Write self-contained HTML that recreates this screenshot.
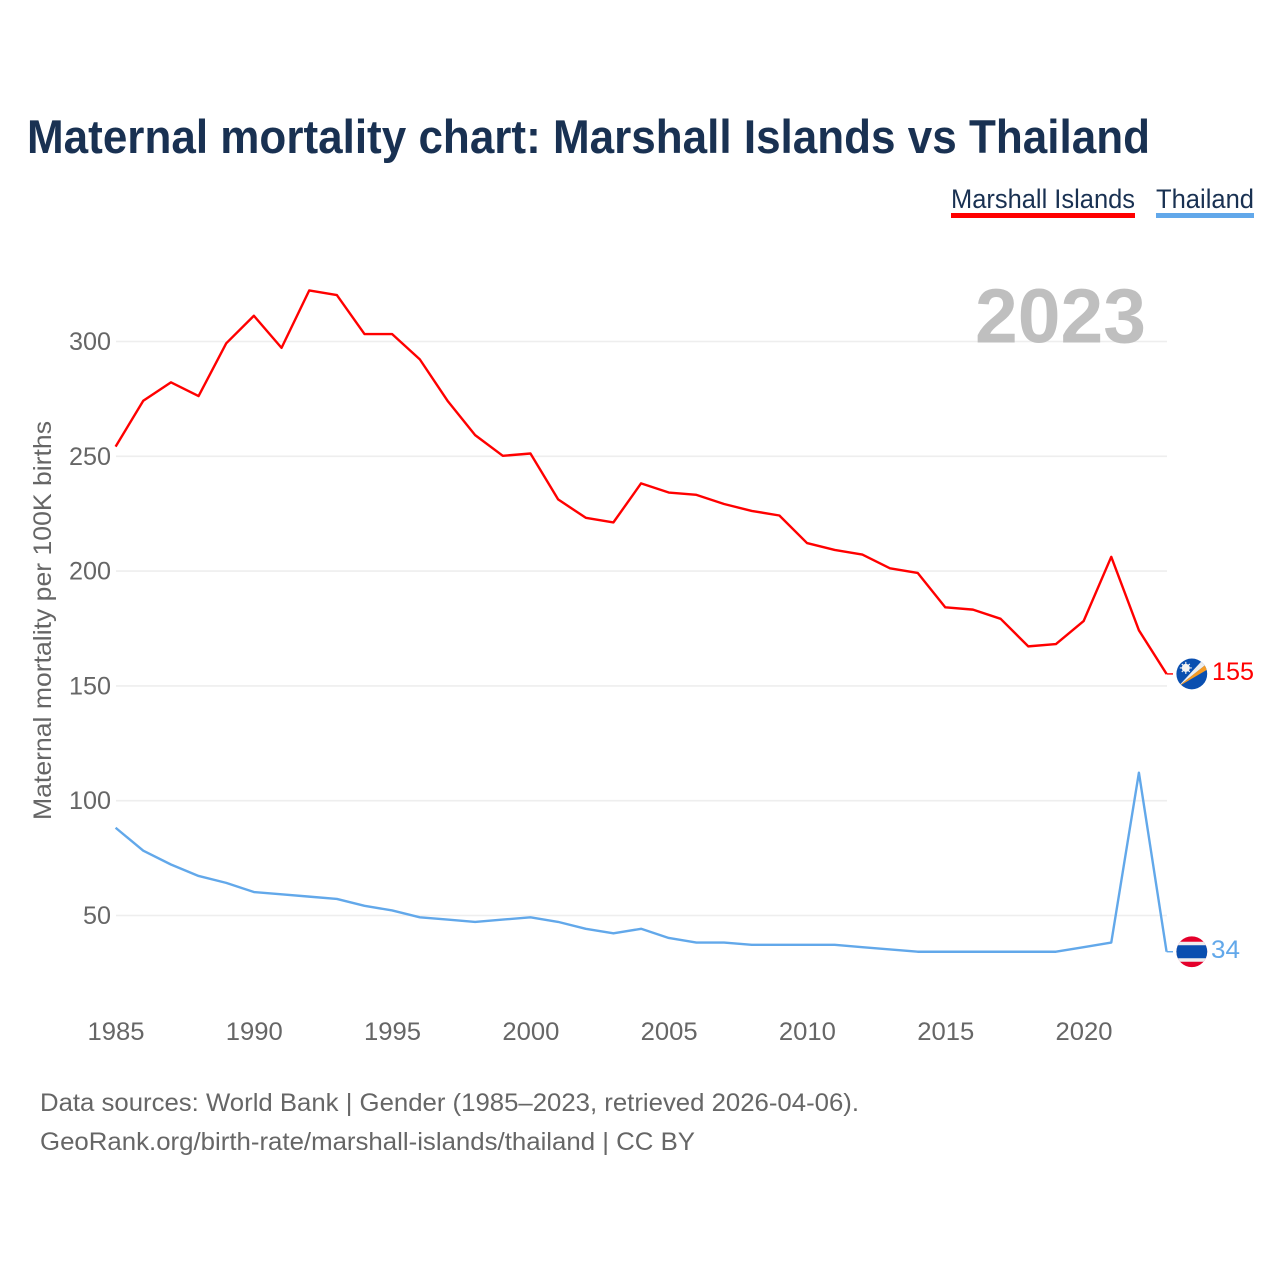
<!DOCTYPE html>
<html lang="en">
<head>
<meta charset="utf-8">
<title>Maternal mortality chart: Marshall Islands vs Thailand</title>
<style>
html,body{margin:0;padding:0;background:#fff;width:1280px;height:1280px;overflow:hidden}
svg{display:block}
text{font-family:"Liberation Sans",sans-serif}
</style>
</head>
<body>
<svg id="chart" width="1280" height="1280" viewBox="0 0 1280 1280" xmlns="http://www.w3.org/2000/svg">
  <rect width="1280" height="1280" fill="#fff"/>
  <text x="27" y="153" font-size="47" font-weight="700" fill="#193152" textLength="1123" lengthAdjust="spacingAndGlyphs">Maternal mortality chart: Marshall Islands vs Thailand</text>
  <g>
    <text x="951" y="208" font-size="27" fill="#193152" textLength="184" lengthAdjust="spacingAndGlyphs">Marshall Islands</text>
    <rect x="951" y="213" width="184" height="5" fill="#ff0000"/>
  </g>
  <g>
    <text x="1156" y="208" font-size="27" fill="#193152" textLength="98" lengthAdjust="spacingAndGlyphs">Thailand</text>
    <rect x="1156" y="213" width="98" height="5" fill="#62a8ea"/>
  </g>
  <g id="grid"></g>
  <text x="975" y="342.5" font-size="77" font-weight="700" fill="#bfbfbf" textLength="171" lengthAdjust="spacingAndGlyphs">2023</text>
  <g id="yticks"></g>
  <g id="xticks"></g>
  <text transform="translate(51 620.5) rotate(-90)" text-anchor="middle" font-size="25" fill="#666" textLength="399" lengthAdjust="spacingAndGlyphs">Maternal mortality per 100K births</text>
  <g id="series"></g>
  <g id="flag-mh">
    <clipPath id="clip-mh"><circle cx="0" cy="0" r="15.4"/></clipPath>
    <g clip-path="url(#clip-mh)">
      <rect x="-16" y="-16" width="32" height="32" fill="#0a4fb0"/>
      <polygon points="-14,13 11,-14 15,-10" fill="#eeeeee"/>
      <polygon points="-14,13 15,-10 15,-4" fill="#f59a23"/>
      <circle cx="-6" cy="-6" r="4" fill="#f2f2f2"/>
      <path d="M-6 -12V0M-12 -6H0M-10 -10L-2 -2M-10 -2L-2 -10" stroke="#f2f2f2" stroke-width="1.2"/>
    </g>
  </g>
  <g id="flag-th">
    <clipPath id="clip-th"><circle cx="0" cy="0" r="15.4"/></clipPath>
    <g clip-path="url(#clip-th)">
      <rect x="-16" y="-16" width="32" height="32" fill="#e4002b"/>
      <rect x="-16" y="-10" width="32" height="20" fill="#eeeeee"/>
      <rect x="-16" y="-6.5" width="32" height="13" fill="#0a4fb0"/>
    </g>
  </g>
  <text id="value-mh" x="1212" font-size="25" fill="#ff0000" textLength="42" lengthAdjust="spacingAndGlyphs"></text>
  <text id="value-th" x="1211" font-size="25" fill="#62a8ea" textLength="29" lengthAdjust="spacingAndGlyphs"></text>
  <text x="40" y="1111" font-size="25" fill="#666" textLength="819" lengthAdjust="spacingAndGlyphs">Data sources: World Bank | Gender (1985–2023, retrieved 2026-04-06).</text>
  <text x="40" y="1150" font-size="25" fill="#666" textLength="655" lengthAdjust="spacingAndGlyphs">GeoRank.org/birth-rate/marshall-islands/thailand | CC BY</text>
</svg>
<script>
const years = [1985,1986,1987,1988,1989,1990,1991,1992,1993,1994,1995,1996,1997,1998,1999,2000,2001,2002,2003,2004,2005,2006,2007,2008,2009,2010,2011,2012,2013,2014,2015,2016,2017,2018,2019,2020,2021,2022,2023];
const marshallIslands = [254,274,282,276,299,311,297,322,320,303,303,292,274,259,250,251,231,223,221,238,234,233,229,226,224,212,209,207,201,199,184,183,179,167,168,178,206,174,155];
const thailand = [88,78,72,67,64,60,59,58,57,54,52,49,48,47,48,49,47,44,42,44,40,38,38,37,37,37,37,36,35,34,34,34,34,34,34,36,38,112,34];
const yTickValues = [50,100,150,200,250,300];
const xTickValues = [1985,1990,1995,2000,2005,2010,2015,2020];

const NS = 'http://www.w3.org/2000/svg';
function xScale(year){ return 115.6 + (year - 1985) * (1083.6 - 115.6) / 35; }
function yScale(v){ return 915 - (v - 50) * (915 - 341) / 250; }
function make(tag, attrs, parent){
  const el = document.createElementNS(NS, tag);
  for (const k in attrs) el.setAttribute(k, attrs[k]);
  parent.appendChild(el);
  return el;
}

const grid = document.getElementById('grid');
const yticks = document.getElementById('yticks');
yTickValues.forEach(function(v){
  const line = make('line', {x1:116, x2:1167, y1:yScale(v) + 0.5, y2:yScale(v) + 0.5, stroke:'#eeeeee', 'stroke-width':1.6}, grid);
  
  
  const label = make('text', {x:111, y:yScale(v) + 9, 'text-anchor':'end', 'font-size':25, fill:'#666', textLength:42, lengthAdjust:'spacingAndGlyphs'}, yticks);
  
  
  label.textContent = v;
  if (v < 100) { label.setAttribute('textLength', 28); }
});

const xticks = document.getElementById('xticks');
xTickValues.forEach(function(v){
  const label = make('text', {x:xScale(v) + 0.4, y:1040, 'text-anchor':'middle', 'font-size':25, fill:'#666', textLength:57, lengthAdjust:'spacingAndGlyphs'}, xticks);
  
  
  label.textContent = v;
});

function drawSeries(values, color, seriesName, flagId, valueId, valueOffset){
  const last = values[values.length - 1];
  const lastY = yScale(last);
  const pts = years.map(function(y, i){ return xScale(y).toFixed(2) + ',' + yScale(values[i]).toFixed(2); });
  const line = make('polyline', {points:pts.join(' '), fill:'none', stroke:color, 'stroke-width':2.4, 'stroke-linejoin':'round'}, document.getElementById('series'));
  
  
  const stub = make('line', {x1:xScale(2023), x2:1173, y1:lastY, y2:lastY, stroke:color, 'stroke-width':1.4}, document.getElementById('series'));
  
  
  document.getElementById(flagId).setAttribute('transform', 'translate(1191.8 ' + lastY.toFixed(2) + ')');
  const value = document.getElementById(valueId);
  value.setAttribute('y', lastY + valueOffset);
  value.textContent = last;
}
drawSeries(marshallIslands, '#ff0000', 'series-line-marshall-islands', 'flag-mh', 'value-mh', 6);
drawSeries(thailand, '#62a8ea', 'series-line-thailand', 'flag-th', 'value-th', 6.5);
</script>
</body>
</html>
